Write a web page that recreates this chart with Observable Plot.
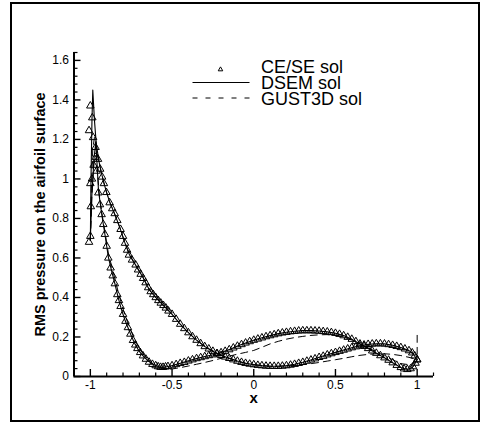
<!DOCTYPE html>
<html><head><meta charset="utf-8">
<script src="https://cdn.jsdelivr.net/npm/d3@7"></script>
<script src="https://cdn.jsdelivr.net/npm/@observablehq/plot@0.6"></script>
<style>
html,body{margin:0;padding:0;background:#fff;}
#wrap{position:relative;width:481px;height:422px;font-family:"Liberation Sans",Arial,Helvetica,sans-serif;}
#border{position:absolute;left:10px;top:2px;width:470px;height:420px;border:2px solid #000;box-sizing:border-box;pointer-events:none;}
#legend{position:absolute;left:0;top:0;pointer-events:none;}
#legend text{font-family:"Liberation Sans",Arial,Helvetica,sans-serif;font-size:18px;fill:#000;}
</style></head>
<body><div id="wrap"><div id="border"></div></div>
<script>
// ---------- data ----------
// axis ticks
const xMajor = [-1, -0.5, 0, 0.5, 1];
const xLabels = ["-1", "-0.5", "0", "0.5", "1"];
const yMajor = [0, 0.2, 0.4, 0.6, 0.8, 1, 1.2, 1.4, 1.6];
const yLabels = ["0", "0.2", "0.4", "0.6", "0.8", "1", "1.2", "1.4", "1.6"];
const seriesNames = ["CE/SE sol", "DSEM sol", "GUST3D sol"];

// CE/SE solution, branch A (steep decay, then hump)
const ceseAX = [-1.0,-0.997,-0.99,-0.98,-0.968,-0.962,-0.951,-0.941,-0.931,-0.921,-0.911,-0.9,-0.89,-0.876,-0.863,-0.85,-0.835,-0.825,-0.815,-0.8,-0.785,-0.77,-0.755,-0.739,-0.725,-0.712,-0.695,-0.678,-0.66,-0.641,-0.62,-0.6,-0.585,-0.57,-0.555,-0.54,-0.525,
-0.5,-0.475,-0.45,-0.425,-0.4,-0.375,-0.35,-0.325,-0.3,-0.275,-0.25,-0.225,-0.2,-0.175,-0.15,-0.125,-0.1,-0.075,-0.05,-0.025,0,0.025,0.05,0.075,0.1,0.125,0.15,0.175,0.2,0.225,0.25,0.275,0.3,0.325,0.35,0.375,0.4,0.425,0.45,0.475,0.5,0.525,0.55,0.575,0.6,0.625,0.65,0.675,0.7,0.725,0.75,0.775,0.8,0.825,0.85,0.875,0.9,0.92,0.94,0.96,0.975,0.99,1.0];
const ceseAY = [0.71,0.86,1.0,1.07,1.11,1.04,0.93,0.87,0.82,0.77,0.72,0.66,0.60,0.55,0.51,0.47,0.415,0.385,0.355,0.315,0.28,0.248,0.215,0.183,0.16,0.142,0.122,0.105,0.088,0.073,0.062,0.055,0.05,0.047,0.047,0.049,0.051,
0.055,0.061,0.067,0.072,0.079,0.085,0.091,0.096,0.101,0.106,0.11,0.115,0.121,0.128,0.136,0.145,0.154,0.162,0.17,0.177,0.184,0.19,0.196,0.202,0.207,0.212,0.217,0.221,0.224,0.227,0.229,0.231,0.232,0.232,0.232,0.231,0.23,0.228,0.226,0.223,0.219,0.214,0.207,0.199,0.189,0.177,0.165,0.153,0.142,0.13,0.118,0.106,0.095,0.083,0.07,0.057,0.046,0.039,0.036,0.04,0.05,0.068,0.085];

// CE/SE solution, branch B (leading-edge peak, gradual decay, low trailing part)
const ceseBX = [-1.008,-1.0,-1.008,-1.0,-0.988,-0.983,-0.968,-0.953,-0.94,-0.928,-0.917,-0.902,-0.882,-0.866,-0.851,-0.835,-0.815,-0.8,-0.788,-0.775,-0.764,-0.745,-0.723,-0.708,-0.692,-0.677,-0.662,-0.646,-0.631,-0.615,-0.6,-0.584,-0.569,-0.553,-0.538,-0.522,
-0.5,-0.475,-0.45,-0.425,-0.4,-0.375,-0.35,-0.325,-0.3,-0.275,-0.25,-0.225,-0.2,-0.175,-0.15,-0.125,-0.1,-0.075,-0.05,-0.025,0,0.025,0.05,0.075,0.1,0.125,0.15,0.175,0.2,0.225,0.25,0.275,0.3,0.325,0.35,0.375,0.4,0.425,0.45,0.475,0.5,0.525,0.55,0.575,0.6,0.625,0.65,0.675,0.7,0.725,0.75,0.775,0.8,0.825,0.85,0.875,0.9,0.925,0.95,0.97,0.985,1.0];
const ceseBY = [0.68,0.977,1.245,1.37,1.31,1.21,1.16,1.1,1.05,1.01,0.977,0.932,0.88,0.85,0.825,0.79,0.745,0.71,0.675,0.64,0.615,0.59,0.565,0.54,0.518,0.497,0.475,0.45,0.43,0.415,0.40,0.385,0.372,0.36,0.347,0.332,
0.315,0.29,0.265,0.243,0.222,0.202,0.184,0.167,0.152,0.14,0.128,0.117,0.107,0.099,0.092,0.085,0.078,0.072,0.067,0.063,0.06,0.057,0.055,0.053,0.052,0.052,0.052,0.053,0.055,0.058,0.062,0.067,0.072,0.078,0.084,0.09,0.097,0.103,0.11,0.116,0.122,0.128,0.134,0.14,0.146,0.151,0.156,0.16,0.163,0.165,0.166,0.166,0.165,0.162,0.158,0.153,0.147,0.14,0.131,0.12,0.105,0.085];

// DSEM solution
const dsemAX = [-1.0,-0.992,-0.978,-0.966,-0.958,-0.95,-0.93,-0.91,-0.89,-0.87,-0.85,-0.83,-0.81,-0.79,-0.77,-0.75,-0.73,-0.71,-0.69,-0.67,-0.65,-0.625,-0.6,-0.575,-0.55,-0.525,-0.5,-0.45,-0.4,-0.35,-0.3,-0.25,-0.2,-0.15,-0.1,-0.05,0,0.05,0.1,0.15,0.2,0.25,0.3,0.35,0.4,0.45,0.5,0.55,0.6,0.65,0.7,0.75,0.8,0.85,0.9,0.925,0.95,0.975,1.0];
const dsemAY = [0.69,0.9,1.1,1.19,1.06,0.94,0.82,0.715,0.605,0.535,0.47,0.40,0.34,0.29,0.248,0.207,0.17,0.14,0.116,0.098,0.082,0.066,0.055,0.048,0.047,0.051,0.055,0.067,0.079,0.091,0.101,0.11,0.121,0.136,0.154,0.17,0.184,0.196,0.207,0.217,0.224,0.229,0.232,0.232,0.23,0.226,0.219,0.207,0.189,0.165,0.142,0.118,0.095,0.07,0.046,0.038,0.037,0.05,0.085];
const dsemBX = [-1.0,-0.996,-0.99,-0.985,-0.975,-0.965,-0.95,-0.935,-0.917,-0.9,-0.88,-0.85,-0.82,-0.79,-0.76,-0.72,-0.68,-0.64,-0.6,-0.55,-0.5,-0.45,-0.4,-0.35,-0.3,-0.25,-0.2,-0.15,-0.1,-0.05,0,0.05,0.1,0.15,0.2,0.25,0.3,0.35,0.4,0.45,0.5,0.55,0.6,0.65,0.7,0.75,0.8,0.85,0.9,0.95,0.975,1.0];
const dsemBY = [0.69,1.0,1.3,1.45,1.3,1.19,1.1,1.04,0.98,0.93,0.88,0.82,0.755,0.68,0.615,0.56,0.505,0.44,0.40,0.358,0.315,0.265,0.222,0.184,0.152,0.128,0.107,0.092,0.078,0.067,0.06,0.055,0.052,0.052,0.055,0.062,0.072,0.084,0.097,0.11,0.122,0.134,0.146,0.156,0.163,0.166,0.165,0.158,0.147,0.131,0.115,0.085];

// GUST3D solution
const gustAX = [-1.0,-0.99,-0.978,-0.966,-0.956,-0.945,-0.93,-0.91,-0.89,-0.87,-0.85,-0.83,-0.81,-0.79,-0.77,-0.75,-0.73,-0.71,-0.69,-0.67,-0.65,-0.625,-0.6,-0.575,-0.55,-0.525,-0.5,-0.45,-0.4,-0.35,-0.3,-0.25,-0.2,-0.15,-0.1,-0.05,0,0.05,0.1,0.15,0.2,0.25,0.3,0.35,0.4,0.45,0.5,0.55,0.6,0.65,0.7,0.75,0.8,0.85,0.9,0.95,0.98,1.0,1.0];
const gustAY = [0.69,0.92,1.08,1.12,1.03,0.92,0.83,0.73,0.625,0.56,0.495,0.43,0.37,0.315,0.27,0.228,0.19,0.158,0.13,0.107,0.088,0.068,0.055,0.046,0.04,0.037,0.038,0.045,0.053,0.062,0.071,0.081,0.092,0.103,0.113,0.122,0.132,0.148,0.165,0.178,0.189,0.197,0.203,0.208,0.211,0.212,0.208,0.2,0.185,0.165,0.145,0.125,0.105,0.085,0.065,0.06,0.07,0.085,0.22];
const gustBX = [-1.0,-0.994,-0.985,-0.975,-0.965,-0.95,-0.935,-0.917,-0.9,-0.88,-0.85,-0.82,-0.79,-0.76,-0.72,-0.68,-0.64,-0.6,-0.55,-0.5,-0.45,-0.4,-0.35,-0.3,-0.25,-0.2,-0.15,-0.1,-0.05,0,0.05,0.1,0.15,0.2,0.25,0.3,0.35,0.4,0.45,0.5,0.55,0.6,0.65,0.7,0.75,0.8,0.85,0.9,0.95,0.98,1.0];
const gustBY = [0.69,0.95,1.15,1.21,1.17,1.1,1.04,0.98,0.93,0.88,0.82,0.755,0.68,0.615,0.56,0.505,0.44,0.40,0.358,0.315,0.265,0.222,0.184,0.152,0.128,0.107,0.092,0.078,0.067,0.06,0.055,0.052,0.052,0.053,0.056,0.06,0.065,0.071,0.078,0.085,0.092,0.1,0.107,0.112,0.115,0.115,0.112,0.106,0.097,0.09,0.085];

// ---------- build ----------
const pts = (X, Y) => X.map((x, i) => ({x, y: Y[i]}));
const ceseA = pts(ceseAX, ceseAY), ceseB = pts(ceseBX, ceseBY);
const dsemA = pts(dsemAX, dsemAY), dsemB = pts(dsemBX, dsemBY);
const gustA = pts(gustAX, gustAY), gustB = pts(gustBX, gustBY);

const xDomain = [-1.1, 1.1], yDomain = [0, 1.64];
const xMinor = d3.range(-11, 12).map(k => k / 10).filter(v => !xMajor.some(m => Math.abs(m - v) < 1e-9));
const yMinor = d3.range(0, 42).map(k => +(k * 0.04).toFixed(2)).filter(v => !yMajor.some(m => Math.abs(m - v) < 1e-9));

const font = '"Liberation Sans", Arial, Helvetica, sans-serif';

const chart = Plot.plot({
  width: 481, height: 422,
  marginLeft: 73.5, marginRight: 48, marginTop: 52, marginBottom: 46,
  x: {domain: xDomain},
  y: {domain: yDomain},
  style: {fontFamily: font, fontSize: "12px", color: "#000", background: "transparent", overflow: "visible"},
  marks: [
    Plot.axisX(xMinor, {tickSize: -3.5, fill: "none", label: null, strokeWidth: 1.2}),
    Plot.axisX(xMajor, {tickSize: -7, fill: "none", label: null, strokeWidth: 1.4}),
    Plot.axisX(xMajor, {tickSize: 0, tickPadding: 4, tickFormat: (d, i) => xLabels[i], label: null, fontSize: 12}),
    Plot.axisY(yMinor, {tickSize: -4, fill: "none", label: null, strokeWidth: 1.2}),
    Plot.axisY(yMajor, {tickSize: -7, fill: "none", label: null, strokeWidth: 1.4}),
    Plot.axisY(yMajor, {tickSize: 0, tickPadding: 5, tickFormat: (d, i) => yLabels[i], label: null, fontSize: 12}),
    Plot.ruleY([yDomain[0]], {stroke: "#000", strokeWidth: 2}),
    Plot.ruleX([xDomain[0]], {stroke: "#000", strokeWidth: 2}),
    Plot.line(gustA, {x: "x", y: "y", stroke: "#000", strokeWidth: 1, strokeDasharray: "7,5"}),
    Plot.line(gustB, {x: "x", y: "y", stroke: "#000", strokeWidth: 1, strokeDasharray: "7,5"}),
    Plot.line(dsemA, {x: "x", y: "y", stroke: "#000", strokeWidth: 1.1}),
    Plot.line(dsemB, {x: "x", y: "y", stroke: "#000", strokeWidth: 1.1}),
    Plot.dot(ceseA, {x: "x", y: "y", symbol: "triangle", r: 2.8, stroke: "#000", fill: "none", strokeWidth: 1}),
    Plot.dot(ceseB, {x: "x", y: "y", symbol: "triangle", r: 2.8, stroke: "#000", fill: "none", strokeWidth: 1}),
    Plot.text(["RMS pressure on the airfoil surface"], {frameAnchor: "left", dx: -33.5, rotate: -90, textAnchor: "middle", fontWeight: "bold", fontSize: 14.5, lineAnchor: "middle", fill: "#000"}),
    Plot.text(["x"], {frameAnchor: "bottom", dy: 22, fontWeight: "bold", fontSize: 15, lineAnchor: "middle", fill: "#000"})
  ]
});
const wrap = document.getElementById("wrap");
wrap.insertBefore(chart, wrap.firstChild);

// legend (inside plot area, upper middle)
const ns = "http://www.w3.org/2000/svg";
const lg = document.createElementNS(ns, "svg");
lg.setAttribute("id", "legend");
lg.setAttribute("width", 481); lg.setAttribute("height", 422);
const tri = d3.symbol(d3.symbolTriangle, 9)();
lg.innerHTML =
  `<path d="${tri}" transform="translate(220.5,69.5)" fill="none" stroke="#000" stroke-width="1"/>` +
  `<line x1="192.5" x2="249.5" y1="82.5" y2="82.5" stroke="#000" stroke-width="1.1"/>` +
  `<line x1="192.5" x2="249.5" y1="98" y2="98" stroke="#000" stroke-width="1" stroke-dasharray="5,8"/>` +
  seriesNames.map((s, i) => `<text x="261" y="${73 + i * 16}">${s}</text>`).join("");
wrap.appendChild(lg);
</script></body></html>
